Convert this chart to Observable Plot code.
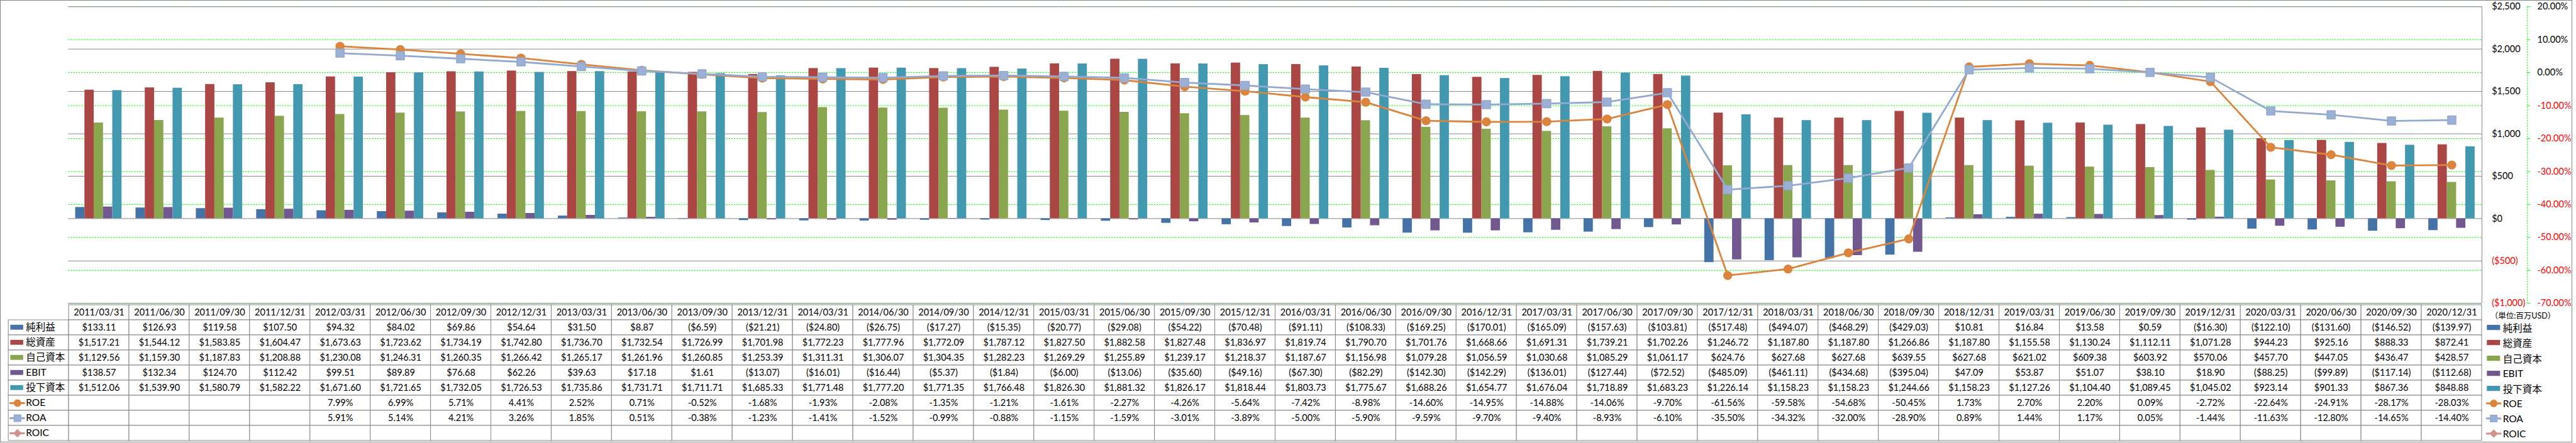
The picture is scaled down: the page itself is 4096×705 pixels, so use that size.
<!DOCTYPE html>
<html lang="ja">
<head>
<meta charset="utf-8">
<script src="https://cdn.jsdelivr.net/npm/d3@7"></script>
<script src="https://cdn.jsdelivr.net/npm/@observablehq/plot@0.6"></script>
<style>
html,body{margin:0;padding:0;background:#fff;}
#chart{position:relative;width:4096px;height:705px;overflow:hidden;font-family:Lato,"Noto Sans CJK JP",sans-serif;color:#000;}
#chart > svg{position:absolute;left:0;top:0;}
.lg{position:absolute;display:flex;align-items:center;white-space:nowrap;transform:translateY(-50%);}
.lg svg{display:block;}
</style>
</head>
<body>
<div id="chart"></div>
<script>
// ---------------- data ----------------
const dates = ["2011/03/31","2011/06/30","2011/09/30","2011/12/31","2012/03/31","2012/06/30","2012/09/30","2012/12/31","2013/03/31","2013/06/30","2013/09/30","2013/12/31","2014/03/31","2014/06/30","2014/09/30","2014/12/31","2015/03/31","2015/06/30","2015/09/30","2015/12/31","2016/03/31","2016/06/30","2016/09/30","2016/12/31","2017/03/31","2017/06/30","2017/09/30","2017/12/31","2018/03/31","2018/06/30","2018/09/30","2018/12/31","2019/03/31","2019/06/30","2019/09/30","2019/12/31","2020/03/31","2020/06/30","2020/09/30","2020/12/31"];
const netIncome = [133.11,126.93,119.58,107.50,94.32,84.02,69.86,54.64,31.50,8.87,-6.59,-21.21,-24.80,-26.75,-17.27,-15.35,-20.77,-29.08,-54.22,-70.48,-91.11,-108.33,-169.25,-170.01,-165.09,-157.63,-103.81,-517.48,-494.07,-468.29,-429.03,10.81,16.84,13.58,0.59,-16.30,-122.10,-131.60,-146.52,-139.97];
const totalAssets = [1517.21,1544.12,1583.85,1604.47,1673.63,1723.62,1734.19,1742.80,1736.70,1732.54,1726.99,1701.98,1772.23,1777.96,1772.09,1787.12,1827.50,1882.58,1827.48,1836.97,1819.74,1790.70,1701.76,1668.66,1691.31,1739.21,1702.26,1246.72,1187.80,1187.80,1266.86,1187.80,1155.58,1130.24,1112.11,1071.28,944.23,925.16,888.33,872.41];
const equity = [1129.56,1159.30,1187.83,1208.88,1230.08,1246.31,1260.35,1266.42,1265.17,1261.96,1260.85,1253.39,1311.31,1306.07,1304.35,1282.23,1269.29,1255.89,1239.17,1218.37,1187.67,1156.98,1079.28,1056.59,1030.68,1085.29,1061.17,624.76,627.68,627.68,639.55,627.68,621.02,609.38,603.92,570.06,457.70,447.05,436.47,428.57];
const ebit = [138.57,132.34,124.70,112.42,99.51,89.89,76.68,62.26,39.63,17.18,1.61,-13.07,-16.01,-16.44,-5.37,-1.84,-6.00,-13.06,-35.60,-49.16,-67.30,-82.29,-142.30,-142.29,-136.01,-127.44,-72.52,-485.09,-461.11,-434.68,-395.04,47.09,53.87,51.07,38.10,18.90,-88.25,-99.89,-117.14,-112.68];
const investedCapital = [1512.06,1539.90,1580.79,1582.22,1671.60,1721.65,1732.05,1726.53,1735.86,1731.71,1711.71,1685.33,1771.48,1777.20,1771.35,1766.48,1826.30,1881.32,1826.17,1818.44,1803.73,1775.67,1688.26,1654.77,1676.04,1718.89,1683.23,1226.14,1158.23,1158.23,1244.66,1158.23,1127.26,1104.40,1089.45,1045.02,923.14,901.33,867.36,848.88];
const roe = [null,null,null,null,7.99,6.99,5.71,4.41,2.52,0.71,-0.52,-1.68,-1.93,-2.08,-1.35,-1.21,-1.61,-2.27,-4.26,-5.64,-7.42,-8.98,-14.60,-14.95,-14.88,-14.06,-9.70,-61.56,-59.58,-54.68,-50.45,1.73,2.70,2.20,0.09,-2.72,-22.64,-24.91,-28.17,-28.03];
const roa = [null,null,null,null,5.91,5.14,4.21,3.26,1.85,0.51,-0.38,-1.23,-1.41,-1.52,-0.99,-0.88,-1.15,-1.59,-3.01,-3.89,-5.00,-5.90,-9.59,-9.70,-9.40,-8.93,-6.10,-35.50,-34.32,-32.00,-28.90,0.89,1.44,1.17,0.05,-1.44,-11.63,-12.80,-14.65,-14.40];
const roic = [];
const barNames = ["純利益","総資産","自己資本","EBIT","投下資本"];
const lineNames = ["ROE","ROA","ROIC"];
const dollarTicks = [-1000,-500,0,500,1000,1500,2000,2500];
const pctTicks = [-70,-60,-50,-40,-30,-20,-10,0,10,20];
const unitLabel = "（単位:百万USD）";

// ---------------- styling / layout ----------------
const barColors = ["#4572A7","#AA4643","#89A54E","#71588F","#4198AF"];
const lineColors = ["#DB843D","#93A9CF","#D19392"];
const lineSymbols = ["circle","square","diamond2"];
const GRID_GRAY = "#868686", GREEN = "#00FF00", RED = "#FF0000";
const S = 0.657;
const W = 4096;
const FONT = 'Lato, "Noto Sans CJK JP", sans-serif';
const plotLeft = 165*S, plotRight = 6006*S, plotTop = 15.5*S, plotBottom = 734*S;
const axisLineX = 6116*S;
const H = Math.ceil(plotBottom) + 2;
const bw = (plotRight - plotLeft) / dates.length;
const gap = bw * 0.116, barW = bw * 0.1536;
const baseStyle = {background: "transparent", fontFamily: FONT, fontSize: "14.5px", overflow: "visible", color: "#000"};
const DASH = "2.4,1.8";

const barSeries = barNames.map((name, k) => ({name, values: [netIncome, totalAssets, equity, ebit, investedCapital][k], color: barColors[k]}));
const lineSeries = lineNames.map((name, k) => ({name, values: [roe, roa, roic][k], color: lineColors[k], symbol: lineSymbols[k]}));

const fmt2 = d3.format(",.2f");
const fmtDollar = v => v < 0 ? `($${fmt2(-v)})` : `$${fmt2(v)}`;
const fmtPct = v => `${v.toFixed(2)}%`;
const fmtDollarAxis = v => v < 0 ? `($${d3.format(",")(-v)})` : `$${d3.format(",")(v)}`;

const chart = document.getElementById("chart");

function frameOpts(extra) {
  return Object.assign({
    width: W, height: H,
    marginTop: plotTop, marginBottom: H - plotBottom,
    marginLeft: plotLeft, marginRight: W - plotRight,
    x: {type: "band", domain: dates, padding: 0, axis: null},
    style: baseStyle
  }, extra);
}

// B: percent gridlines (bottom layer)
chart.appendChild(Plot.plot(frameOpts({
  y: {domain: [-70, 20], axis: null},
  marks: [Plot.ruleY(pctTicks, {y: d => d, stroke: GREEN, strokeWidth: 1, strokeDasharray: DASH})]
})));

// A: dollar gridlines, bars, dollar labels
chart.appendChild(Plot.plot(frameOpts({
  y: {domain: [-1000, 2500], axis: null},
  marks: [
    Plot.ruleY(dollarTicks, {y: d => d, stroke: GRID_GRAY, strokeWidth: 1}),
    ...barSeries.map((s, k) => Plot.barY(
      dates.map((d, i) => ({date: d, value: s.values[i]})),
      {x: "date", y1: 0, y2: "value", fill: s.color,
       insetLeft: gap + k*barW, insetRight: bw - gap - (k+1)*barW})),
    Plot.text(dollarTicks.filter(v => v >= 0), {y: d => d, text: fmtDollarAxis, frameAnchor: "right", textAnchor: "start", dx: 6030*S - plotRight, fill: "#000"}),
    Plot.text(dollarTicks.filter(v => v < 0), {y: d => d, text: fmtDollarAxis, frameAnchor: "right", textAnchor: "start", dx: 6030*S - plotRight, fill: RED})
  ]
})));

// C: ROE / ROA lines
chart.appendChild(Plot.plot(frameOpts({
  x: {type: "point", domain: dates, padding: 0.5, axis: null},
  y: {domain: [-70, 20], axis: null},
  marks: lineSeries.flatMap(s => {
    const pts = dates.map((d, i) => ({date: d, value: s.values[i] ?? null}));
    const defined = pts.filter(p => p.value != null);
    const dotOpts = s.symbol === "circle"
      ? {r: 7.2, fill: s.color}
      : {r: 7.3, fill: "#9BB0D4", stroke: s.color, strokeWidth: 1.6, strokeLinejoin: "round"};
    return [
      Plot.line(pts, {x: "date", y: "value", stroke: s.color, strokeWidth: 2.8}),
      Plot.dot(defined, {x: "date", y: "value", symbol: s.symbol, ...dotOpts})
    ];
  })
})));

// P: plot right border and percent axis
const axOff = axisLineX - plotRight;
chart.appendChild(Plot.plot({
  width: W, height: H, marginTop: plotTop, marginBottom: H - plotBottom, marginLeft: plotRight, marginRight: 0,
  x: {domain: [0, W - plotRight], axis: null},
  y: {domain: [-70, 20], axis: null},
  style: baseStyle,
  marks: [
    Plot.ruleX([0], {x: d => d, stroke: GRID_GRAY, strokeWidth: 1}),
    Plot.ruleX([axOff], {x: d => d, stroke: GREEN, strokeWidth: 1, strokeDasharray: DASH}),
    Plot.ruleY(pctTicks, {y: d => d, x1: axOff, x2: axOff + 5, stroke: GREEN, strokeWidth: 1}),
    Plot.text(pctTicks.filter(v => v >= 0), {y: d => d, x: 6140*S - plotRight, text: fmtPct, textAnchor: "start", fill: "#000"}),
    Plot.text(pctTicks.filter(v => v < 0), {y: d => d, x: 6140*S - plotRight, text: fmtPct, textAnchor: "start", fill: RED})
  ]
}));

// T: data table
const tableTop = 734*S, tableBottom = 1070*S, tableLeft = 20*S;
const TH = Math.ceil(tableBottom) + 1;
const cols = ["__label", ...dates];
const rowDefs = [
  ...barSeries.map(s => ({...s, fmt: fmtDollar})),
  ...lineSeries.map(s => ({...s, fmt: fmtPct}))
];
const rowsAll = ["__header", ...rowDefs.map(r => r.name)];
const cbw = (plotRight - tableLeft) / cols.length;
const rbh = (tableBottom - tableTop) / rowsAll.length;
const cellData = [];
for (const c of cols) for (const r of rowsAll) if (!(c === "__label" && r === "__header")) cellData.push({c, r});

const tableMarks = [
  Plot.cell(cellData, {x: "c", y: "r", fill: "#fff", stroke: GRID_GRAY, strokeWidth: 1}),
  Plot.text(dates, {x: d => d, y: () => "__header", text: d => d}),
  ...rowDefs.map(r => Plot.text(
    dates.map((d, i) => ({date: d, v: r.values[i]})).filter(o => o.v != null),
    {x: "date", y: () => r.name, text: o => r.fmt(o.v)})),
  ...barSeries.map(s => Plot.cell([s], {x: () => "__label", y: () => s.name, fill: s.color,
    insetLeft: 3.3, insetRight: cbw - 23.7, insetTop: rbh*0.32, insetBottom: rbh*0.34})),
  ...lineSeries.flatMap(s => [
    Plot.tickY([s], {x: () => "__label", y: () => s.name, stroke: s.color, strokeWidth: 3, insetLeft: 2, insetRight: cbw - 26.3}),
    Plot.dot([s], {x: () => "__label", y: () => s.name, dx: 14.1 - cbw/2, r: 6, fill: s.symbol === "square" ? "#9BB0D4" : s.color,
      stroke: s.color, strokeWidth: s.symbol === "square" ? 1.4 : 0, symbol: s.symbol})
  ]),
  Plot.text(rowDefs, {x: () => "__label", y: "name", text: "name", textAnchor: "start", dx: 27.6 - cbw/2, fontSize: 15.5})
];
chart.appendChild(Plot.plot({
  width: W, height: TH, marginTop: tableTop, marginBottom: TH - tableBottom, marginLeft: tableLeft, marginRight: W - plotRight,
  x: {type: "band", domain: cols, padding: 0, axis: null},
  y: {type: "band", domain: rowsAll, padding: 0, axis: null},
  style: baseStyle,
  marks: tableMarks
}));

// Right-hand legend
function addLegend() {
  const root = d3.select(chart);
  root.append("div").attr("class", "lg")
    .style("left", `${6027*S}px`).style("top", `${763*S}px`)
    .style("font-size", "12.5px").text(unitLabel);
  const ys = [793, 830, 867, 904, 940.6, 977.6, 1014, 1050.5];
  const items = [...barSeries.map(s => ({...s, kind: "bar"})), ...lineSeries.map(s => ({...s, kind: "line"}))];
  items.forEach((it, i) => {
    const row = root.append("div").attr("class", "lg")
      .style("left", `${6017*S}px`).style("top", `${ys[i]*S}px`).style("font-size", "15.5px");
    const svg = row.append("svg").attr("width", 26).attr("height", 16);
    if (it.kind === "bar") {
      svg.append("rect").attr("x", 1.3).attr("y", 4).attr("width", 21).attr("height", 8.2).attr("fill", it.color);
    } else {
      svg.append("line").attr("x1", 0).attr("x2", 24.3).attr("y1", 8).attr("y2", 8).attr("stroke", it.color).attr("stroke-width", 3);
      const sym = {circle: d3.symbolCircle, square: d3.symbolSquare, diamond2: d3.symbolDiamond2}[it.symbol];
      svg.append("path").attr("transform", "translate(12.2,8)")
        .attr("d", d3.symbol(sym, 36 * Math.PI)())
        .attr("fill", it.symbol === "square" ? "#9BB0D4" : it.color)
        .attr("stroke", it.color).attr("stroke-width", it.symbol === "square" ? 1.4 : 0);
    }
    row.append("span").style("margin-left", "0.5px").text(it.name);
  });
}
addLegend();

// outer border
d3.select(chart).append("div")
  .style("position", "absolute").style("left", "0px").style("top", "0px")
  .style("width", `${Math.round(6226*S)}px`).style("height", `${Math.round(1071*S)}px`)
  .style("box-sizing", "border-box").style("border", `1px solid ${GRID_GRAY}`)
  .style("pointer-events", "none");
</script>
</body>
</html>
